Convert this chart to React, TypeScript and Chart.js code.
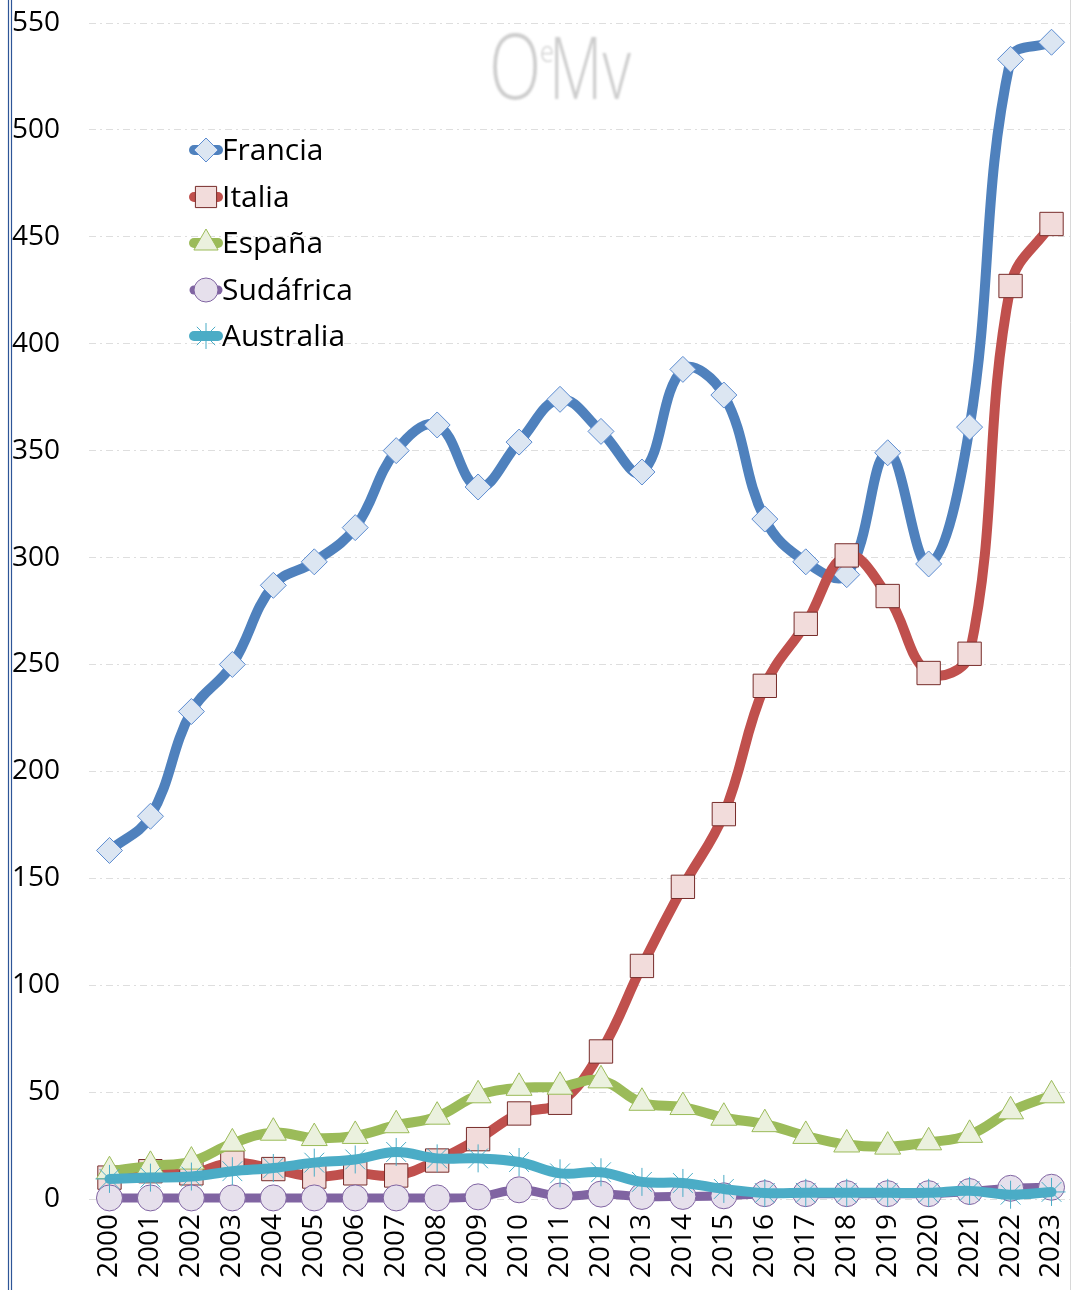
import React, { useEffect, useRef } from "react";
import { Chart, registerables } from "chart.js";

Chart.register(...registerables);

const years = ["2000","2001","2002","2003","2004","2005","2006","2007","2008","2009","2010","2011","2012","2013","2014","2015","2016","2017","2018","2019","2020","2021","2022","2023"];
const francia = [163, 179, 228, 250, 287, 298, 314, 350, 362, 333, 354, 374, 359, 340, 388, 376, 318, 298, 292, 349, 297, 361, 533, 541];
const italia = [10, 13, 12, 17, 14, 10.5, 12, 11, 18, 28, 40, 45, 69, 109, 146, 180, 240, 269, 301, 282, 246, 255, 427, 456];
const espana = [13, 15.5, 17.5, 26, 31, 28.5, 29.5, 34.5, 38.5, 48.5, 52, 52.5, 55.5, 45, 43, 38, 35, 29.5, 25.5, 24.5, 26.5, 30, 41, 48.5];
const sudafrica = [0.5, 0.5, 0.5, 0.5, 0.5, 0.5, 0.5, 0.5, 0.5, 1, 4.3, 1.4, 2.3, 1.2, 1.2, 1.5, 2.5, 2.5, 2.5, 2.5, 2.5, 3.5, 5, 5.5];
const australia = [9.4, 10, 10.5, 13, 14.5, 17, 18.5, 22, 19, 19, 17.3, 12, 12.5, 8, 7.5, 4.7, 2.8, 2.9, 2.9, 2.9, 2.9, 3.8, 2, 3.3];
const yTicks = [0, 50, 100, 150, 200, 250, 300, 350, 400, 450, 500, 550];
const seriesNames = ["Francia", "Italia", "España", "Sudáfrica", "Australia"];

const FONT = "'Open Sans', 'DejaVu Sans', sans-serif";

type Sty = { line: string; fill: string; stroke: string; style: string; r: number; lw: number };
const styles: Sty[] = [
  { line: "#4F81BD", fill: "#DCE6F2", stroke: "#5B8BD0", style: "rectRot", r: 13, lw: 10 },
  { line: "#C0504D", fill: "#F2DCDB", stroke: "#772C2A", style: "rect", r: 16.5, lw: 10 },
  { line: "#9BBB59", fill: "#EBF1DE", stroke: "#9BBB59", style: "triangle", r: 15, lw: 10 },
  { line: "#8064A2", fill: "#E6E0EC", stroke: "#8064A2", style: "circle", r: 13, lw: 9 },
  { line: "#4BACC6", fill: "#4BACC6", stroke: "#4BACC6", style: "star", r: 14, lw: 10 },
];

function drawMarker(ctx: CanvasRenderingContext2D, s: Sty, x: number, y: number, r: number) {
  ctx.save();
  ctx.beginPath();
  ctx.lineWidth = 1;
  ctx.fillStyle = s.fill;
  ctx.strokeStyle = s.stroke;
  if (s.style === "rectRot") {
    ctx.moveTo(x, y - r); ctx.lineTo(x + r, y); ctx.lineTo(x, y + r); ctx.lineTo(x - r, y); ctx.closePath();
    ctx.fill(); ctx.stroke();
  } else if (s.style === "rect") {
    const h = r * Math.SQRT1_2;
    ctx.rect(x - h, y - h, 2 * h, 2 * h); ctx.fill(); ctx.stroke();
  } else if (s.style === "triangle") {
    ctx.moveTo(x, y - r); ctx.lineTo(x + r * 0.866, y + r / 2); ctx.lineTo(x - r * 0.866, y + r / 2); ctx.closePath();
    ctx.fill(); ctx.stroke();
  } else if (s.style === "circle") {
    ctx.arc(x, y, r, 0, Math.PI * 2); ctx.fill(); ctx.stroke();
  } else {
    for (let k = 0; k < 4; k++) {
      const a = (k * Math.PI) / 4;
      ctx.moveTo(x - Math.cos(a) * r, y - Math.sin(a) * r);
      ctx.lineTo(x + Math.cos(a) * r, y + Math.sin(a) * r);
    }
    ctx.stroke();
  }
  ctx.restore();
}

const framePlugin = {
  id: "frame",
  beforeDatasetsDraw(chart: any) {
    const ctx = chart.ctx as CanvasRenderingContext2D;
    ctx.save();
    ctx.fillStyle = "#cdcdcd";
    ctx.filter = "blur(0.8px)";
    ctx.textBaseline = "alphabetic";
    ctx.save();
    ctx.translate(489, 99);
    ctx.scale(0.76, 1);
    ctx.font = `300 90px ${FONT}`;
    ctx.fillText("O", 0, 0);
    ctx.restore();
    ctx.save();
    ctx.translate(540, 62);
    ctx.scale(0.85, 1);
    ctx.font = `300 30px ${FONT}`;
    ctx.fillText("e", 0, 0);
    ctx.restore();
    ctx.save();
    ctx.translate(549, 99);
    ctx.scale(0.72, 1);
    ctx.font = `300 86px ${FONT}`;
    ctx.fillText("Mv", 0, 0);
    ctx.restore();
    ctx.restore();
  },
  afterDraw(chart: any) {
    const ctx = chart.ctx as CanvasRenderingContext2D;
    ctx.save();
    ctx.strokeStyle = "#2E5597";
    ctx.lineWidth = 1.2;
    ctx.beginPath();
    ctx.moveTo(8.5, 0); ctx.lineTo(8.5, 1290);
    ctx.moveTo(11.5, 0); ctx.lineTo(11.5, 1290);
    ctx.stroke();
    ctx.strokeStyle = "#d8d8d8";
    ctx.lineWidth = 1;
    ctx.beginPath();
    ctx.moveTo(1070.5, 0); ctx.lineTo(1070.5, 1290);
    ctx.stroke();
    const ys = [150, 197, 243, 290, 336];
    seriesNames.forEach((name, i) => {
      const s = styles[i];
      const y = ys[i];
      ctx.save();
      ctx.strokeStyle = s.line;
      ctx.lineWidth = s.lw;
      ctx.lineCap = "round";
      ctx.beginPath();
      ctx.moveTo(194, y); ctx.lineTo(218, y);
      ctx.stroke();
      ctx.restore();
      drawMarker(ctx, s, 206, y, s.style === "rect" ? 15 : s.r - 1);
      ctx.save();
      ctx.fillStyle = "#000";
      ctx.font = `30px ${FONT}`;
      ctx.textAlign = "left";
      ctx.textBaseline = "middle";
      ctx.fillText(name, 222, y + 1);
      ctx.restore();
    });
    ctx.restore();
  },
};

export default function App() {
  const ref = useRef<HTMLCanvasElement | null>(null);
  useEffect(() => {
    if (!ref.current) return;
    const all = [francia, italia, espana, sudafrica, australia];
    const zeroPad = (s: any) => {
      s.paddingLeft = 0;
      s.paddingRight = 0;
      s.paddingTop = 0;
      s.paddingBottom = 0;
    };
    const chart = new Chart(ref.current, {
      type: "line",
      data: {
        labels: years,
        datasets: all.map((d, i) => {
          const s = styles[i];
          return {
            label: seriesNames[i],
            data: d,
            order: 5 - i,
            borderColor: s.line,
            borderWidth: s.lw,
            borderCapStyle: "round",
            borderJoinStyle: "round",
            tension: 0.4,
            fill: false,
            clip: false,
            pointStyle: s.style,
            pointRadius: s.r,
            pointBackgroundColor: s.fill,
            pointBorderColor: s.stroke,
            pointBorderWidth: 1,
          } as any;
        }),
      },
      options: {
        responsive: false,
        animation: false,
        devicePixelRatio: 1,
        layout: { autoPadding: false, padding: { top: 23, right: 0, bottom: 0, left: 0 } },
        plugins: { legend: { display: false }, tooltip: { enabled: false } },
        scales: {
          x: {
            offset: true,
            grid: { display: false, drawTicks: false },
            border: { display: false },
            ticks: {
              minRotation: 90,
              maxRotation: 90,
              padding: 15,
              color: "#000",
              font: { family: FONT, size: 28 },
              autoSkip: false,
            },
            afterFit: (s: any) => {
              s.height = 91;
              zeroPad(s);
            },
            afterUpdate: (s: any) => zeroPad(s),
          },
          y: {
            min: 0,
            max: 550,
            afterBuildTicks: (s: any) => {
              s.ticks = yTicks.map((v) => ({ value: v }));
            },
            grid: { color: "#dedede", lineWidth: 1, drawTicks: false },
            border: { display: false, dash: [7, 4, 2, 4] },
            ticks: {
              padding: 29,
              color: "#000",
              font: { family: FONT, size: 28 },
            },
            afterFit: (s: any) => {
              s.width = 89;
              zeroPad(s);
            },
            afterUpdate: (s: any) => zeroPad(s),
          },
        },
      },
      plugins: [framePlugin],
    } as any);
    return () => chart.destroy();
  }, []);
  return (
    <div style={{ position: "absolute", left: 0, top: 0, width: 1072, height: 1290, background: "#fff" }}>
      <canvas ref={ref} width={1072} height={1290} style={{ display: "block" }} />
    </div>
  );
}
